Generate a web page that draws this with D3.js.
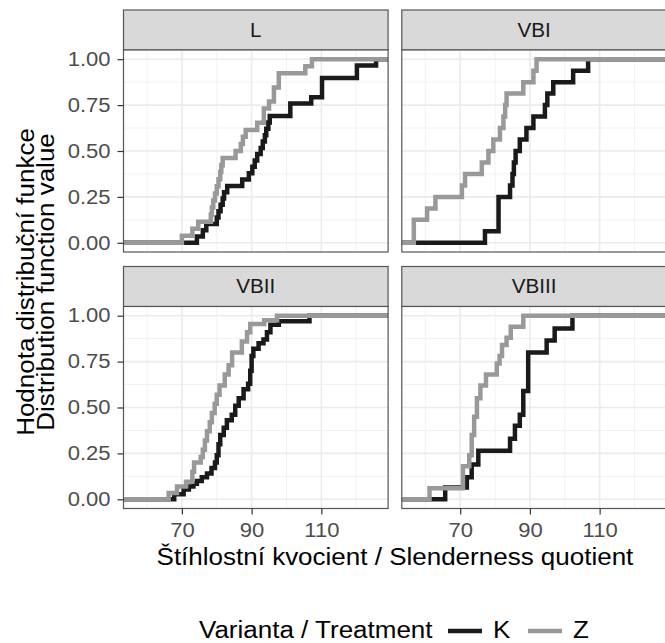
<!DOCTYPE html>
<html lang="cs">
<head>
    <meta charset="utf-8">
    <title>ECDF stihlostni kvocient</title>
    <style>
        body { margin: 0; background: #fff; }
        svg text { font-family: "Liberation Sans", Arial, sans-serif; }
        .grid-major { stroke: #ebebeb; stroke-width: 1.6; }
        .grid-minor { stroke: #f2f2f2; stroke-width: 1; }
        .tick-label { fill: #4d4d4d; font-size: 19.5px; }
        .strip-label { fill: #1a1a1a; font-size: 19.5px; }
        .title { fill: #000; font-size: 23px; }
    </style>
</head>
<body>
<div id="chart"></div>

<script src="https://cdn.jsdelivr.net/npm/d3@7/dist/d3.min.js"></script>
<script>
    // facets and groups
    var panels = ["L", "VBI", "VBII", "VBIII"];
    var groups = ["K", "Z"];
    var groupColors = ["#1a1a1a", "#999999"];

    var xTicks = [70, 90, 110];
    var xMinor = [60, 80, 100, 120];
    var yTicks = [0, 0.25, 0.5, 0.75, 1];
    var yTickLabels = ["0.00", "0.25", "0.50", "0.75", "1.00"];
    var yMinor = [0.125, 0.375, 0.625, 0.875];

    // ECDF jumps: [slenderness quotient, cumulative share]
    var L_K = [[74.3, .034], [76.0, .069], [77.0, .103], [80.0, .138], [80.5, .172], [81.1, .207],
        [81.7, .241], [82.1, .276], [83.0, .31], [87.3, .345], [89.2, .379], [90.2, .414], [90.9, .448],
        [91.6, .483], [92.6, .517], [93.2, .552], [93.8, .586], [94.2, .621], [94.8, .655], [95.2, .69],
        [101.1, .759], [107.1, .793], [110.2, .897], [120.2, .966], [125.7, 1]];
    var L_Z = [[70.0, .038], [73.0, .077], [74.7, .115], [78.3, .154], [78.6, .192], [79.0, .231],
        [79.5, .269], [80.0, .308], [80.5, .346], [81.0, .385], [81.3, .423], [81.7, .462], [85.4, .5],
        [86.9, .538], [87.5, .577], [88.3, .615], [91.6, .654], [93.5, .731], [95.0, .769], [96.4, .846],
        [97.8, .923], [105.4, .962], [107.3, 1]];

    var VBI_K = [[77.1, .0625], [81.0, .25], [84.3, .3125], [85.0, .375], [85.4, .4375], [85.9, .5],
        [87.1, .5625], [89.0, .625], [91.0, .6875], [94.3, .75], [95.0, .8125], [96.7, .875],
        [102.4, .9375], [106.7, 1]];
    var VBI_Z = [[56.7, .125], [60.5, .1875], [62.9, .25], [70.5, .3125], [71.4, .375], [76.2, .4375],
        [78.1, .5], [79.5, .5625], [81.4, .625], [82.4, .6875], [82.9, .75], [83.3, .8125], [88.1, .875],
        [91.0, .9375], [91.9, 1]];

    var VBII_K = [[67.8, .027], [70.5, .054], [72.0, .07], [73.3, .085], [74.3, .1], [75.7, .12],
        [77.2, .14], [78.5, .17], [79.5, .2], [80.0, .24], [80.5, .3], [81.0, .35], [82.0, .39],
        [82.9, .43], [84.3, .46], [85.3, .51], [86.3, .55], [87.7, .6], [89.0, .63], [89.6, .7],
        [90.0, .78], [90.5, .82], [92.0, .85], [93.4, .87], [94.4, .91], [95.4, .95], [97.8, .97],
        [106.6, 1]];
    var VBII_Z = [[66.2, .035], [68.6, .07], [71.2, .095], [73.0, .15], [73.5, .2], [75.4, .23],
        [76.0, .27], [76.6, .32], [77.2, .37], [78.0, .42], [78.6, .47], [79.4, .52], [80.0, .57],
        [80.8, .62], [82.3, .68], [83.4, .73], [84.4, .8], [87.2, .86], [88.7, .91], [89.6, .955],
        [93.6, .975], [97.3, 1]];

    var VBIII_K = [[65.7, .065], [71.9, .12], [73.3, .19], [75.2, .265], [84.3, .33], [85.7, .4],
        [87.1, .46], [88.1, .59], [89.5, .8], [94.8, .865], [97.1, .93], [102.2, 1]];
    var VBIII_Z = [[61.2, .06], [70.8, .18], [72.6, .24], [73.3, .35], [74.0, .45], [74.8, .55],
        [75.8, .62], [77.4, .68], [80.5, .74], [81.3, .78], [82.0, .84], [83.3, .88], [84.5, .94],
        [88.1, 1]];

    var series = {
        L: [L_K, L_Z],
        VBI: [VBI_K, VBI_Z],
        VBII: [VBII_K, VBII_Z],
        VBIII: [VBIII_K, VBIII_Z]
    };

    var width = 665, height = 643;
    var margin = {left: 123.5, top: 10};
    var panelW = 264.6, panelH = 202, stripH = 40, gapX = 13.7, gapY = 14.5;

    // the reference lettering is a bit wider than Liberation Sans
    function stretch(sel, k) {
        sel.each(function () {
            var len = this.getComputedTextLength();
            d3.select(this).attr("textLength", len * k).attr("lengthAdjust", "spacingAndGlyphs");
        });
    }

    var svg = d3.select("#chart").append("svg")
        .attr("width", width)
        .attr("height", height);

    // shared x scale with ggplot style 5% padding
    var allX = [];
    panels.forEach(function (p) {
        series[p].forEach(function (s) {
            s.forEach(function (d) { allX.push(d[0]); });
        });
    });
    var ext = d3.extent(allX), pad = (ext[1] - ext[0]) * 0.05;
    var x = d3.scaleLinear().domain([ext[0] - pad, ext[1] + pad]).range([0, panelW]);
    var y = d3.scaleLinear().domain([-0.05, 1.05]).range([panelH, 0]);

    var line = d3.line()
        .x(function (d) { return x(d[0]); })
        .y(function (d) { return y(d[1]); })
        .curve(d3.curveStepAfter);

    svg.append("defs").append("clipPath").attr("id", "panel-clip")
        .append("rect").attr("width", panelW).attr("height", panelH);

    panels.forEach(function (name, i) {
        var col = i % 2, row = Math.floor(i / 2);
        var px = margin.left + col * (panelW + gapX);
        var py = margin.top + row * (stripH + panelH + gapY);

        var g = svg.append("g").attr("transform", "translate(" + px + "," + py + ")");

        // strip
        g.append("rect")
            .attr("width", panelW).attr("height", stripH)
            .attr("fill", "#d9d9d9").attr("stroke", "#555").attr("stroke-width", 1.2);
        g.append("text")
            .attr("class", "strip-label")
            .attr("x", panelW / 2).attr("y", stripH / 2)
            .attr("text-anchor", "middle").attr("dy", "0.35em")
            .text(name)
            .call(stretch, 1.06);

        var body = g.append("g").attr("transform", "translate(0," + stripH + ")");
        body.append("rect").attr("width", panelW).attr("height", panelH).attr("fill", "#fff");

        body.selectAll(".gx-minor").data(xMinor).enter().append("line")
            .attr("class", "grid-minor")
            .attr("x1", x).attr("x2", x).attr("y1", 0).attr("y2", panelH);
        body.selectAll(".gy-minor").data(yMinor).enter().append("line")
            .attr("class", "grid-minor")
            .attr("y1", y).attr("y2", y).attr("x1", 0).attr("x2", panelW);
        body.selectAll(".gx-major").data(xTicks).enter().append("line")
            .attr("class", "grid-major")
            .attr("x1", x).attr("x2", x).attr("y1", 0).attr("y2", panelH);
        body.selectAll(".gy-major").data(yTicks).enter().append("line")
            .attr("class", "grid-major")
            .attr("y1", y).attr("y2", y).attr("x1", 0).attr("x2", panelW);

        // step lines, padded to the panel edges like stat_ecdf
        var lines = body.append("g").attr("clip-path", "url(#panel-clip)");
        series[name].forEach(function (s, k) {
            var pts = [[x.domain()[0] - 5, 0]].concat(s, [[x.domain()[1] + 5, 1]]);
            lines.append("path")
                .datum(pts)
                .attr("d", line)
                .attr("fill", "none")
                .attr("stroke", groupColors[k])
                .attr("stroke-width", 4.5)
                .attr("stroke-linejoin", "miter");
        });

        body.append("rect")
            .attr("width", panelW).attr("height", panelH)
            .attr("fill", "none").attr("stroke", "#555").attr("stroke-width", 1.2);

        // y axis on left column
        if (col === 0) {
            var yAxis = d3.axisLeft(y).tickValues(yTicks)
                .tickFormat(function (d, j) { return yTickLabels[j]; })
                .tickSize(6).tickPadding(7);
            var ya = body.append("g").call(yAxis);
            ya.attr("font-family", null).attr("font-size", null);
            ya.select(".domain").remove();
            ya.selectAll("line").attr("stroke", "#333").attr("stroke-width", 1.2);
            ya.selectAll("text").attr("class", "tick-label").attr("fill", null).call(stretch, 1.13);
        }
        // x axis on bottom row
        if (row === 1) {
            var xAxis = d3.axisBottom(x).tickValues(xTicks).tickSize(6).tickPadding(9);
            var xa = body.append("g").attr("transform", "translate(0," + panelH + ")").call(xAxis);
            xa.attr("font-family", null).attr("font-size", null);
            xa.select(".domain").remove();
            xa.selectAll("line").attr("stroke", "#333").attr("stroke-width", 1.2);
            xa.selectAll("text").attr("class", "tick-label").attr("fill", null).call(stretch, 1.13);
        }
    });

    // axis titles
    svg.append("text")
        .attr("class", "title")
        .attr("x", margin.left + panelW + gapX / 2)
        .attr("y", 565)
        .attr("text-anchor", "middle")
        .text("Štíhlostní kvocient / Slenderness quotient")
        .call(stretch, 1.13);

    var yTitle = svg.append("text")
        .attr("class", "title")
        .attr("text-anchor", "middle")
        .attr("transform", "translate(0,282) rotate(-90)");
    yTitle.append("tspan").attr("x", 0).attr("y", 33.5).text("Hodnota distribuční funkce");
    yTitle.append("tspan").attr("x", 0).attr("y", 53.5).text("Distribution function value");
    yTitle.selectAll("tspan").call(stretch, 1.13);

    // legend
    var legend = svg.append("g").attr("transform", "translate(0,631)");
    legend.append("text").attr("class", "title")
        .attr("x", 199).attr("y", 7).text("Varianta / Treatment")
        .call(stretch, 1.13);
    var keyX = [448, 528];
    groups.forEach(function (gname, k) {
        legend.append("line")
            .attr("x1", keyX[k]).attr("x2", keyX[k] + 34)
            .attr("stroke", groupColors[k]).attr("stroke-width", 4.5);
        legend.append("text").attr("class", "title")
            .attr("x", keyX[k] + 45).attr("y", 7).text(gname)
            .call(stretch, 1.13);
    });
</script>
</body>
</html>
